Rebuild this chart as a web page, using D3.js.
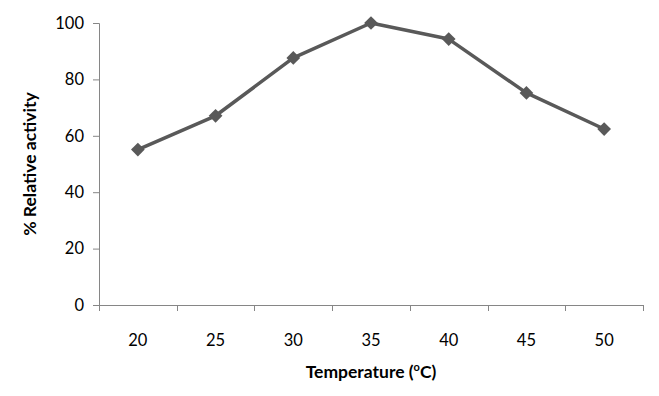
<!DOCTYPE html>
<html>
<head>
<meta charset="utf-8">
<script src="https://cdn.jsdelivr.net/npm/d3@7"></script>
<style>
  body { margin: 0; background: #fff; }
  svg text { font-family: Lato, "Open Sans", sans-serif; fill: #000; }
</style>
</head>
<body>
<script>
// temperatures (categories) and % relative activity
var temps = ['20', '25', '30', '35', '40', '45', '50'];
var activity = [55.1, 67.1, 87.6, 100, 94.3, 75.2, 62.4];
var yTicks = [0, 20, 40, 60, 80, 100];

var w = 659;
var h = 396;
var margin = { top: 23, right: 16, bottom: 91, left: 99 };

var svg = d3.select('body')
            .append('svg')
            .attr('width', w)
            .attr('height', h);

var x = d3.scaleBand()
  .domain(temps)
  .range([margin.left, w - margin.right])
  .padding(0);

var y = d3.scaleLinear()
  .domain([0, 100])
  .range([h - margin.bottom, margin.top]);

var axisColor = '#868686';

// y axis
var yAxis = svg.append('g')
  .attr('transform', 'translate(' + margin.left + ',0)')
  .call(d3.axisLeft(y).tickValues(yTicks).tickSize(6).tickPadding(9));
yAxis.select('.domain').attr('stroke', axisColor);
yAxis.selectAll('.tick line').attr('stroke', axisColor);
yAxis.selectAll('.tick text').attr('font-size', '16.5px').attr('fill', '#000');

// x axis - ticks sit on the category boundaries, like Excel
var xAxis = svg.append('g')
  .attr('transform', 'translate(0,' + (h - margin.bottom) + ')')
  .call(d3.axisBottom(x).tickSize(0).tickPadding(0));
xAxis.select('.domain').attr('stroke', axisColor);
xAxis.selectAll('.tick text')
  .attr('font-size', '16.5px')
  .attr('fill', '#000')
  .attr('dy', '0')
  .attr('y', 41);

var bounds = x.domain().map(function(d) { return x(d); }).concat([x.range()[1]]);
svg.append('g')
  .selectAll('line')
  .data(bounds)
  .enter()
  .append('line')
    .attr('x1', function(d) { return Math.round(d) + 0.5; })
    .attr('x2', function(d) { return Math.round(d) + 0.5; })
    .attr('y1', h - margin.bottom)
    .attr('y2', h - margin.bottom + 6)
    .attr('stroke', axisColor);

// line + diamond markers
var line = d3.line()
  .x(function(d, i) { return x(temps[i]) + x.bandwidth() / 2; })
  .y(function(d) { return y(d); });

svg.append('path')
  .datum(activity)
  .attr('d', line)
  .attr('fill', 'none')
  .attr('stroke', '#595959')
  .attr('stroke-width', 3.5)
  .attr('stroke-linejoin', 'round');

svg.selectAll('.marker')
  .data(activity)
  .enter()
  .append('path')
    .attr('class', 'marker')
    .attr('d', d3.symbol().type(d3.symbolDiamond2).size(120))
    .attr('transform', function(d, i) {
      return 'translate(' + (x(temps[i]) + x.bandwidth() / 2) + ',' + y(d) + ')';
    })
    .attr('fill', '#595959');

// axis titles
var xTitle = svg.append('text')
  .attr('x', (margin.left + w - margin.right) / 2)
  .attr('y', 378)
  .attr('text-anchor', 'middle')
  .attr('font-size', '17.5px')
  .attr('font-weight', 'bold');
xTitle.append('tspan').text('Temperature (');
xTitle.append('tspan').text('o').attr('font-size', '11px').attr('dy', '-7');
xTitle.append('tspan').text('C)').attr('dy', '7');

svg.append('text')
  .attr('transform', 'translate(36,' + ((margin.top + h - margin.bottom) / 2) + ') rotate(-90)')
  .attr('text-anchor', 'middle')
  .attr('font-size', '17.5px')
  .attr('font-weight', 'bold')
  .text('% Relative activity');
</script>
</body>
</html>
